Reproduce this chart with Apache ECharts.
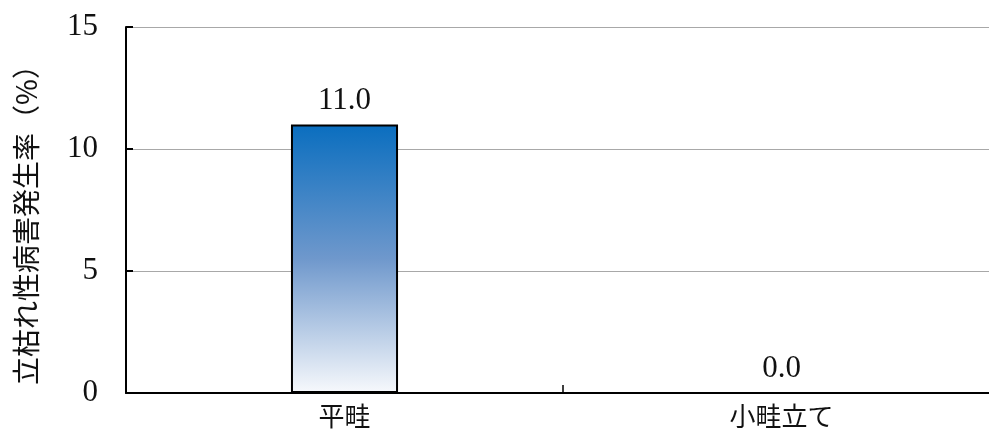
<!DOCTYPE html>
<html><head><meta charset="utf-8">
<script src="https://cdn.jsdelivr.net/npm/echarts@6/dist/echarts.min.js"></script>
<style>html,body{margin:0;padding:0;background:#fff}#c{width:989px;height:443px}</style>
</head><body><div id="c"></div>
<script>
const categories = ['平畦', '小畦立て'];
const values = [11.0, 0.0];
const yTicks = [0, 5, 10, 15];
const yName = '立枯れ性病害発生率（%）';

const chart = echarts.init(document.getElementById('c'), null, {renderer: 'canvas'});
chart.setOption({
  animation: false,
  backgroundColor: '#fff',
  grid: {left: 126, right: -11, top: 27, bottom: 50, containLabel: false, outerBoundsMode: 'none'},
  xAxis: {
    type: 'category', data: categories, boundaryGap: true,
    axisLine: {show: true, lineStyle: {color: '#000', width: 2}},
    axisTick: {show: true, inside: true, length: 8, lineStyle: {color: '#000', width: 1.5}, interval: 0},
    axisLabel: {color: '#111', fontSize: 26, fontFamily: 'Noto Sans CJK JP', margin: 10}
  },
  yAxis: {
    type: 'value', min: yTicks[0], max: yTicks[yTicks.length - 1], interval: 5,
    name: yName, nameLocation: 'middle', nameGap: 86, nameRotate: 90,
    nameTextStyle: {color: '#111', fontSize: 28, fontFamily: 'Noto Sans CJK JP', padding: [0, 16, 0, 0]},
    axisLine: {show: true, lineStyle: {color: '#000', width: 2}},
    axisTick: {show: true, inside: true, length: 7, lineStyle: {color: '#000', width: 2}},
    axisLabel: {color: '#111', fontSize: 31, fontFamily: 'Liberation Serif', margin: 28},
    splitLine: {show: true, lineStyle: {color: '#a8a8a8', width: 1}}
  },
  series: [{
    type: 'bar', data: values, barWidth: '24.5%',
    itemStyle: {
      borderColor: '#000', borderWidth: 2,
      color: new echarts.graphic.LinearGradient(0, 0, 0, 1, [
        {offset: 0, color: '#0a6ebf'},
        {offset: 0.5, color: '#6f98cc'},
        {offset: 1, color: '#f7f9fc'}
      ])
    },
    label: {show: true, position: 'top', distance: 8, formatter: p => p.value.toFixed(1),
      color: '#111', fontSize: 31, fontFamily: 'Liberation Serif'}
  }]
});
</script></body></html>
